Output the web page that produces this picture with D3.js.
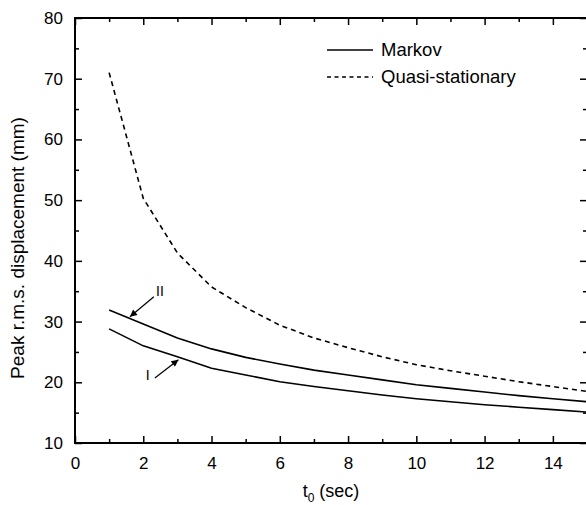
<!DOCTYPE html>
<html>
<head>
<meta charset="utf-8">
<script src="https://cdn.jsdelivr.net/npm/d3@7"></script>
<style>
  body { margin: 0; background: #fff; }
  text { font-family: "Liberation Sans", Arial, sans-serif; fill: #000; }
</style>
</head>
<body>
<div id="chart"></div>
<script>
// values
var t0 = [1, 2, 3, 4, 5, 6, 7, 8, 9, 10, 11, 12, 13, 14, 15];
var quasi = [71, 50.3, 41.3, 35.7, 32.3, 29.4, 27.3, 25.7, 24.2, 22.9, 21.9, 21.0, 20.1, 19.3, 18.5];
var markovII = [31.9, 29.6, 27.3, 25.5, 24.1, 23.0, 22.0, 21.2, 20.4, 19.6, 19.0, 18.4, 17.8, 17.3, 16.8];
var markovI = [28.8, 26.0, 24.2, 22.3, 21.2, 20.1, 19.3, 18.6, 17.9, 17.3, 16.8, 16.3, 15.9, 15.5, 15.1];
var xTicks = [0, 2, 4, 6, 8, 10, 12, 14];
var yTicks = [10, 20, 30, 40, 50, 60, 70, 80];

var W = 586, H = 505;
var mLeft = 75, mTop = 18, mRight = 587, mBottom = 443;

var svg = d3.select("#chart").append("svg")
    .attr("width", W)
    .attr("height", H);

var x = d3.scaleLinear().domain([0, 15]).range([mLeft, mRight]);
var y = d3.scaleLinear().domain([10, 80]).range([mBottom, mTop]);

function minor(arr, step) {
    var out = [];
    arr.forEach(function(v){ out.push(v + step); });
    return out;
}

// axes, ticks inward
var xMajor = d3.axisBottom(x).tickValues(xTicks).tickSizeInner(-7).tickSizeOuter(0).tickPadding(14);
var xMinor = d3.axisBottom(x).tickValues(minor(xTicks, 1)).tickSize(-4).tickFormat("");
var yMajor = d3.axisLeft(y).tickValues(yTicks).tickSizeInner(-7).tickSizeOuter(0).tickPadding(12);
var yMinor = d3.axisLeft(y).tickValues(minor(yTicks, 5).slice(0, 7)).tickSize(-4).tickFormat("");

function addAxis(gen, tr) {
    var g = svg.append("g").attr("transform", tr).call(gen);
    g.selectAll("path.domain").remove();
    g.selectAll("line").attr("stroke", "#000").attr("stroke-width", 1.5);
    g.selectAll("text").style("font-size", "17px").attr("fill", "#000");
    return g;
}

addAxis(xMajor, "translate(0," + mBottom + ")");
addAxis(xMinor, "translate(0," + mBottom + ")");
addAxis(d3.axisTop(x).tickValues(xTicks).tickSize(-7).tickFormat(""), "translate(0," + mTop + ")");
addAxis(d3.axisTop(x).tickValues(minor(xTicks, 1)).tickSize(-4).tickFormat(""), "translate(0," + mTop + ")");
addAxis(yMajor, "translate(" + mLeft + ",0)");
addAxis(yMinor, "translate(" + mLeft + ",0)");
addAxis(d3.axisRight(y).tickValues(yTicks).tickSize(-7).tickFormat(""), "translate(" + mRight + ",0)");
addAxis(d3.axisRight(y).tickValues(minor(yTicks, 5).slice(0, 7)).tickSize(-4).tickFormat(""), "translate(" + mRight + ",0)");

// frame
svg.append("rect")
    .attr("x", mLeft).attr("y", mTop)
    .attr("width", mRight - mLeft).attr("height", mBottom - mTop)
    .attr("fill", "none").attr("stroke", "#000").attr("stroke-width", 2);

// curves
var line = d3.line()
    .x(function(d){ return x(d[0]); })
    .y(function(d){ return y(d[1]); });

function draw(vals, dash) {
    svg.append("path")
        .datum(t0.map(function(t, i){ return [t, vals[i]]; }))
        .attr("d", line)
        .attr("fill", "none")
        .attr("stroke", "#000")
        .attr("stroke-width", 1.6)
        .attr("stroke-dasharray", dash);
}
draw(quasi, "5,4");
draw(markovII, null);
draw(markovI, null);

// curve labels with arrows
svg.append("defs").append("marker")
    .attr("id", "arr")
    .attr("viewBox", "0 0 10 10")
    .attr("refX", 10).attr("refY", 5)
    .attr("markerWidth", 9).attr("markerHeight", 7)
    .attr("markerUnits", "userSpaceOnUse")
    .attr("orient", "auto")
    .append("path").attr("d", "M0,0L10,5L0,10z").attr("fill", "#000");

var notes = [
    { label: "II", tx: 2.49, ty: 34.2, x1: 2.31, y1: 34.1, x2: 1.61, y2: 30.8 },
    { label: "I", tx: 2.13, ty: 20.4, x1: 2.34, y1: 20.7, x2: 3.03, y2: 23.7 }
];
notes.forEach(function(n){
    svg.append("line")
        .attr("x1", x(n.x1)).attr("y1", y(n.y1))
        .attr("x2", x(n.x2)).attr("y2", y(n.y2))
        .attr("stroke", "#000").attr("stroke-width", 1.2)
        .attr("marker-end", "url(#arr)");
    svg.append("text")
        .attr("x", x(n.tx)).attr("y", y(n.ty))
        .attr("text-anchor", "middle")
        .style("font-size", "14px")
        .text(n.label);
});

// legend
var legend = [
    { name: "Markov", dash: null, yy: 50 },
    { name: "Quasi-stationary", dash: "4,3.5", yy: 77 }
];
legend.forEach(function(l){
    svg.append("line")
        .attr("x1", 327).attr("x2", 373)
        .attr("y1", l.yy).attr("y2", l.yy)
        .attr("stroke", "#000").attr("stroke-width", 1.6)
        .attr("stroke-dasharray", l.dash);
    svg.append("text")
        .attr("x", 381).attr("y", l.yy + 6)
        .style("font-size", "18.5px")
        .text(l.name);
});

// axis titles
var xt = svg.append("text")
    .attr("x", 331).attr("y", 497)
    .attr("text-anchor", "middle")
    .style("font-size", "18px");
xt.append("tspan").text("t");
xt.append("tspan").attr("dy", 5).style("font-size", "12px").text("0");
xt.append("tspan").attr("dy", -5).text(" (sec)");

svg.append("text")
    .attr("transform", "translate(24,248) rotate(-90)")
    .attr("text-anchor", "middle")
    .style("font-size", "19px")
    .text("Peak r.m.s. displacement (mm)");
</script>
</body>
</html>
